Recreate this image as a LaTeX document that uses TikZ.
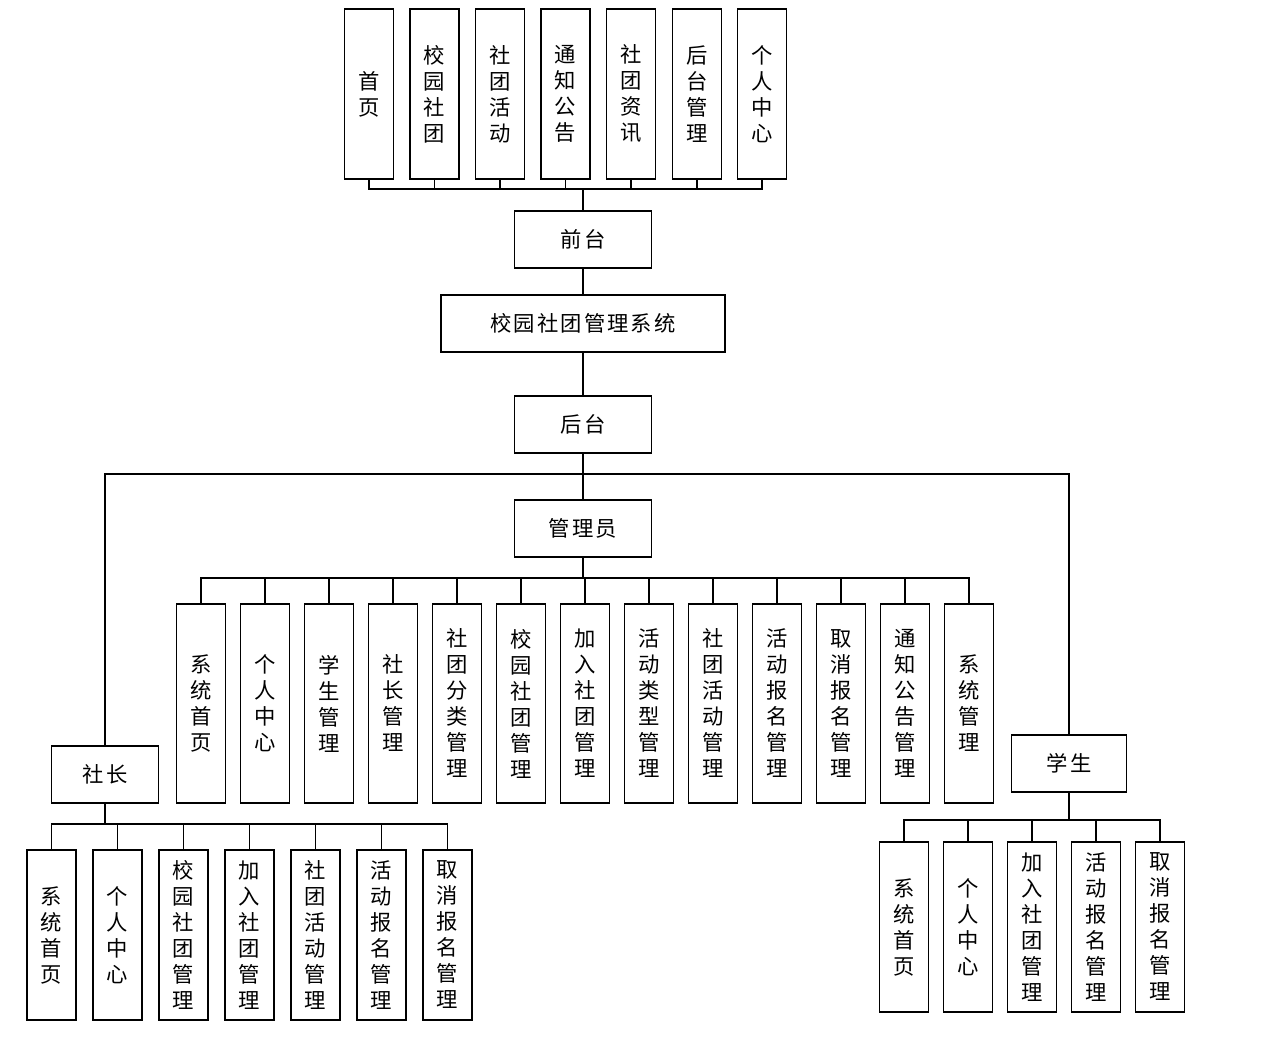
\documentclass[tikz,border=0pt]{standalone}
\usepackage{fontspec}
\newfontfamily\cjk{Noto Sans CJK SC}[LetterSpace=10]
\usetikzlibrary{positioning, calc}

\tikzset{
  box/.style={draw=black, line width=0.9pt, rectangle, inner sep=0pt, align=center,
    font=\cjk\fontsize{16}{19.5}\selectfont},
  wide/.style={box, minimum width=102.75pt, minimum height=42.75pt},
  tall/.style={box, minimum width=36.75pt, minimum height=#1},
  link/.style={line width=0.9pt},
  trunk/.style={line width=1.2pt}
}

\begin{document}
\begin{tikzpicture}[x=0.75pt, y=-0.75pt]
      \useasboundingbox (0, 0) rectangle (1281, 1037);

      % front end
      \node[tall=127.5pt] (t1) at (369, 94) {首\\页};
      \node[tall=127.5pt] (t2) at (434.5, 94) {校\\园\\社\\团};
      \node[tall=127.5pt] (t3) at (500, 94) {社\\团\\活\\动};
      \node[tall=127.5pt] (t4) at (565.5, 94) {通\\知\\公\\告};
      \node[tall=127.5pt] (t5) at (631, 94) {社\\团\\资\\讯};
      \node[tall=127.5pt] (t6) at (697, 94) {后\\台\\管\\理};
      \node[tall=127.5pt] (t7) at (762, 94) {个\\人\\中\\心};

      \node[wide] (qt) at (583, 239.5) {前台};
      \node[box, minimum width=213pt, minimum height=42.75pt] (sys) at (583, 323.5) {校园社团管理系统};
      \node[wide] (ht) at (583, 424.5) {后台};
      \node[wide] (gly) at (583, 528.5) {管理员};
      \node[box, minimum width=80.25pt, minimum height=42.75pt] (sz) at (105, 774.5) {社长};
      \node[box, minimum width=86.25pt, minimum height=42.75pt] (xs) at (1069, 763.5) {学生};

      % admin
      \node[tall=149.25pt] (a1) at (201, 703.5) {系\\统\\首\\页};
      \node[tall=149.25pt] (a2) at (265, 703.5) {个\\人\\中\\心};
      \node[tall=149.25pt] (a3) at (329, 703.5) {学\\生\\管\\理};
      \node[tall=149.25pt] (a4) at (393, 703.5) {社\\长\\管\\理};
      \node[tall=149.25pt] (a5) at (457, 703.5) {社\\团\\分\\类\\管\\理};
      \node[tall=149.25pt] (a6) at (521, 703.5) {校\\园\\社\\团\\管\\理};
      \node[tall=149.25pt] (a7) at (585, 703.5) {加\\入\\社\\团\\管\\理};
      \node[tall=149.25pt] (a8) at (649, 703.5) {活\\动\\类\\型\\管\\理};
      \node[tall=149.25pt] (a9) at (713, 703.5) {社\\团\\活\\动\\管\\理};
      \node[tall=149.25pt] (a10) at (777, 703.5) {活\\动\\报\\名\\管\\理};
      \node[tall=149.25pt] (a11) at (841, 703.5) {取\\消\\报\\名\\管\\理};
      \node[tall=149.25pt] (a12) at (905, 703.5) {通\\知\\公\\告\\管\\理};
      \node[tall=149.25pt] (a13) at (969, 703.5) {系\\统\\管\\理};

      % club leader
      \node[tall=127.5pt] (s1) at (51.5, 935) {系\\统\\首\\页};
      \node[tall=127.5pt] (s2) at (117.5, 935) {个\\人\\中\\心};
      \node[tall=127.5pt] (s3) at (183.5, 935) {校\\园\\社\\团\\管\\理};
      \node[tall=127.5pt] (s4) at (249.5, 935) {加\\入\\社\\团\\管\\理};
      \node[tall=127.5pt] (s5) at (315.5, 935) {社\\团\\活\\动\\管\\理};
      \node[tall=127.5pt] (s6) at (381.5, 935) {活\\动\\报\\名\\管\\理};
      \node[tall=127.5pt] (s7) at (447.5, 935) {取\\消\\报\\名\\管\\理};

      % student
      \node[tall=127.5pt] (x1) at (904, 927) {系\\统\\首\\页};
      \node[tall=127.5pt] (x2) at (968, 927) {个\\人\\中\\心};
      \node[tall=127.5pt] (x3) at (1032, 927) {加\\入\\社\\团\\管\\理};
      \node[tall=127.5pt] (x4) at (1096, 927) {活\\动\\报\\名\\管\\理};
      \node[tall=127.5pt] (x5) at (1160, 927) {取\\消\\报\\名\\管\\理};

      \coordinate (qtbus) at (583, 189);
      \coordinate (htbus) at (583, 474);
      \coordinate (glybus) at (583, 578);
      \coordinate (szbus) at (105, 824);
      \coordinate (xsbus) at (1069, 820);

      \draw[trunk] (qt.north) -- (qtbus);
      \draw[link] (qtbus) -| (t1.south);
      \draw[link] (qtbus) -| (t2.south);
      \draw[link] (qtbus) -| (t3.south);
      \draw[link] (qtbus) -| (t4.south);
      \draw[link] (qtbus) -| (t5.south);
      \draw[link] (qtbus) -| (t6.south);
      \draw[link] (qtbus) -| (t7.south);

      \draw[trunk] (qt.south) -- (sys.north);
      \draw[trunk] (sys.south) -- (ht.north);
      \draw[trunk] (ht.south) -- (gly.north);
      \draw[trunk] (htbus) -| (sz.north);
      \draw[trunk] (htbus) -| (xs.north);

      \draw[trunk] (gly.south) -- (glybus);
      \draw[link] (glybus) -| (a1.north);
      \draw[link] (glybus) -| (a2.north);
      \draw[link] (glybus) -| (a3.north);
      \draw[link] (glybus) -| (a4.north);
      \draw[link] (glybus) -| (a5.north);
      \draw[link] (glybus) -| (a6.north);
      \draw[link] (glybus) -| (a7.north);
      \draw[link] (glybus) -| (a8.north);
      \draw[link] (glybus) -| (a9.north);
      \draw[link] (glybus) -| (a10.north);
      \draw[link] (glybus) -| (a11.north);
      \draw[link] (glybus) -| (a12.north);
      \draw[link] (glybus) -| (a13.north);

      \draw[trunk] (sz.south) -- (szbus);
      \draw[link] (szbus) -| (s1.north);
      \draw[link] (szbus) -| (s2.north);
      \draw[link] (szbus) -| (s3.north);
      \draw[link] (szbus) -| (s4.north);
      \draw[link] (szbus) -| (s5.north);
      \draw[link] (szbus) -| (s6.north);
      \draw[link] (szbus) -| (s7.north);

      \draw[trunk] (xs.south) -- (xsbus);
      \draw[link] (xsbus) -| (x1.north);
      \draw[link] (xsbus) -| (x2.north);
      \draw[link] (xsbus) -| (x3.north);
      \draw[link] (xsbus) -| (x4.north);
      \draw[link] (xsbus) -| (x5.north);

    \end{tikzpicture}
\end{document}
